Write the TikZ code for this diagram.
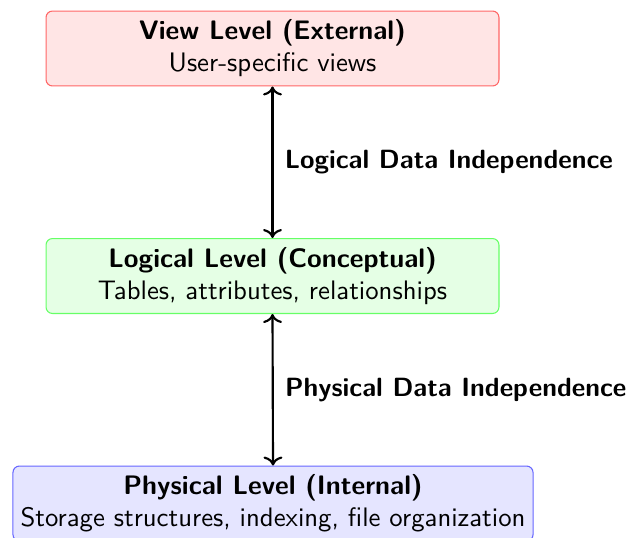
\documentclass[tikz,border=0pt]{standalone}
\usetikzlibrary{arrows.meta}
\begin{document}
\begin{tikzpicture}[x=0.3738pt, y=-0.3738pt,
  font=\sffamily,
  level/.style={draw=#1!60, fill=#1!10, rounded corners=2.4pt, line width=0.4pt,
    align=center, minimum height=28pt, inner sep=0pt},
  link/.style={<->, thick, black},
  linklabel/.style={anchor=west, inner sep=0pt, xshift=4.2pt,
    font=\sffamily\bfseries\fontsize{9.85}{12}\selectfont}]
  \useasboundingbox (0,0) rectangle (631,537);

  % the three abstraction levels
  \node[level=red, minimum width=169.3pt] (view) at (272.5,48.5)
    {\textbf{View Level (External)}\\User-specific views};
  \node[level=green, minimum width=169.3pt] (logical) at (272.5,276)
    {\textbf{Logical Level (Conceptual)}\\Tables, attributes, relationships};
  \node[level=blue, minimum width=194.4pt] (physical) at (273,503.5)
    {\textbf{Physical Level (Internal)}\\Storage structures, indexing, file organization};

  % independence between neighbouring levels
  \draw[link] (view.south) -- node[linklabel] (ldi) {Logical Data Independence} (logical.north);
  \draw[link] (logical.south) -- node[linklabel] (pdi) {Physical Data Independence} (physical.north);
\end{tikzpicture}
\end{document}
